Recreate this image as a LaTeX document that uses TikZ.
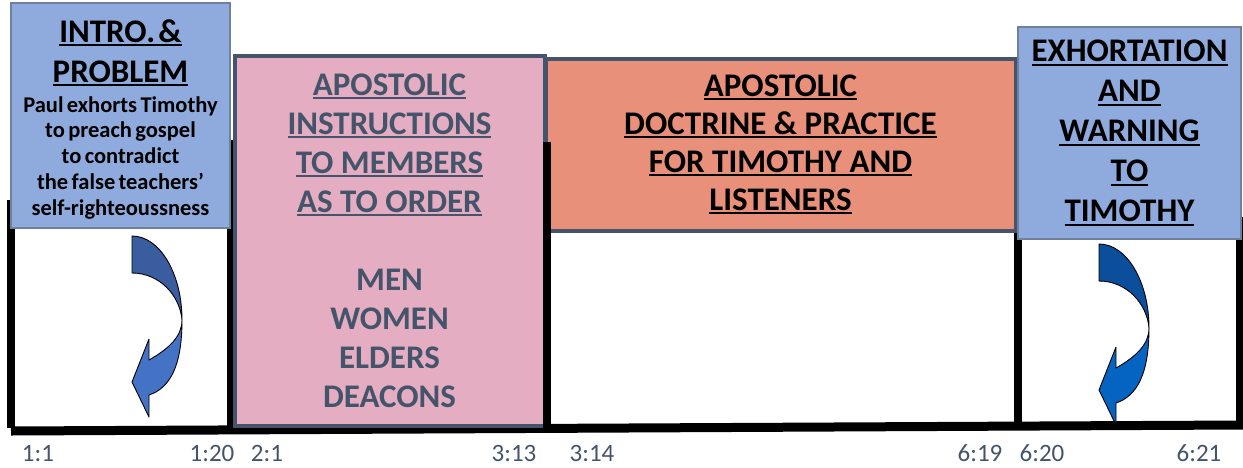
\documentclass[tikz,border=0pt]{standalone}
\usepackage{fontspec}
\setmainfont{Carlito}
\definecolor{SlateDark}{HTML}{44546A}
\definecolor{BoxBlue}{HTML}{8FAADC}
\definecolor{BoxBlueEdge}{HTML}{6F809A}
\definecolor{BoxPink}{HTML}{E5ADC2}
\definecolor{BoxSalmon}{HTML}{E8907A}
\definecolor{ArrowDarkA}{HTML}{3A5DA0}
\definecolor{ArrowLightA}{HTML}{4472C4}
\definecolor{ArrowDarkB}{HTML}{0B4F9C}
\definecolor{ArrowLightB}{HTML}{0563C1}
\usetikzlibrary{positioning}
\newsavebox{\ulsave}
\newcommand{\ulbox}[1]{\leavevmode\sbox{\ulsave}{#1}\rlap{\rule[-3.8pt]{\wd\ulsave}{1.8pt}}\usebox{\ulsave}}

\begin{document}
\begin{tikzpicture}[
    x=1pt, y=-1pt, font=\bfseries,
    bluebox/.style={draw=BoxBlueEdge, line width=1.5pt, fill=BoxBlue, inner sep=0pt, align=center},
    slatebox/.style={draw=SlateDark, line width=4pt, inner sep=0pt, align=center},
    heading/.style={font=\fontsize{33}{39}\selectfont\bfseries},
    verse/.style={font=\fontsize{25}{29}\selectfont, text=SlateDark, anchor=base},
    framebar/.style={line width=8pt, black}
  ]
    \fill[white] (0,0) rectangle (1243,467);
    \useasboundingbox (0,0) rectangle (1243,467);
    % black time line
    \draw[framebar] (11,200) -- (11,428);
    \draw[framebar] (231,140) -- (231,428);
    \draw[framebar] (1018,217) -- (1018,428);
    \draw[framebar] (1239.5,217) -- (1239.5,428);
    \draw[line width=9pt] (11,431) -- (1243,425);

    \node[bluebox, minimum width=219pt, minimum height=225pt] (intro) at (120.5,115.5) {};
    \node[inner sep=0pt, align=center, text width=215pt, below=17pt of intro.north] (introtext)
      {{\fontsize{33}{40}\selectfont\ulbox{INTRO. \&}\\\ulbox{PROBLEM}\par}\vspace{4pt}
       {\fontsize{22.5}{25.8}\selectfont Paul exhorts Timothy\\to preach gospel\\to contradict\\the false teachers’\\self-righteoussness\par}};
    \node[slatebox, fill=BoxPink, text=SlateDark, heading, minimum width=310pt, minimum height=370pt] (members) at (389.5,240.5)
      {\ulbox{APOSTOLIC}\\\ulbox{INSTRUCTIONS}\\\ulbox{TO MEMBERS}\\\ulbox{AS TO ORDER}\\[39pt]
       MEN\\WOMEN\\ELDERS\\DEACONS};
    \node[slatebox, fill=BoxSalmon, heading, font=\fontsize{33}{38}\selectfont\bfseries, minimum width=470pt, minimum height=172pt] (doctrine) at (780.5,144.5)
      {\ulbox{APOSTOLIC}\\\ulbox{DOCTRINE \& PRACTICE}\\\ulbox{FOR TIMOTHY AND}\\\ulbox{LISTENERS}};
    \node[bluebox, heading, font=\fontsize{33}{40}\selectfont\bfseries, minimum width=223pt, minimum height=212pt] (exhort) at (1129.5,133)
      {\ulbox{EXHORTATION}\\\ulbox{AND}\\\ulbox{WARNING}\\\ulbox{TO}\\\ulbox{TIMOTHY}};

    \draw[framebar] (547,142) -- (547,428);

    % turning arrows
    \foreach \ax/\ay/\up/\lo in {132/236/ArrowDarkA/ArrowLightA, 1099/244/ArrowDarkB/ArrowLightB} {
      \begin{scope}[shift={(\ax,\ay)}, draw=black, line width=0.9pt, line join=round]
        \filldraw[fill=\up] (0,0) .. controls (28,0) and (50,38) .. (50,84)
          .. controls (48,60) and (28,37) .. (0,37) -- cycle;
        \filldraw[fill=\lo] (50,84) .. controls (50,130) and (38,152) .. (17,159)
          -- (17,181) -- (0,146) -- (17,103) -- (17,124)
          .. controls (38,112) and (50,100) .. (50,84) -- cycle;
      \end{scope}
    }

    % verse references
    \node[verse] (v11) at (38,461.7) {1:1};
    \node[verse] (v120) at (212,461.7) {1:20};
    \node[verse] (v21) at (267,461.7) {2:1};
    \node[verse] (v313) at (514,461.7) {3:13};
    \node[verse] (v314) at (592,461.7) {3:14};
    \node[verse] (v619) at (980,461.7) {6:19};
    \node[verse] (v620) at (1042,461.7) {6:20};
    \node[verse] (v621) at (1199,461.7) {6:21};
  \end{tikzpicture}
\end{document}
